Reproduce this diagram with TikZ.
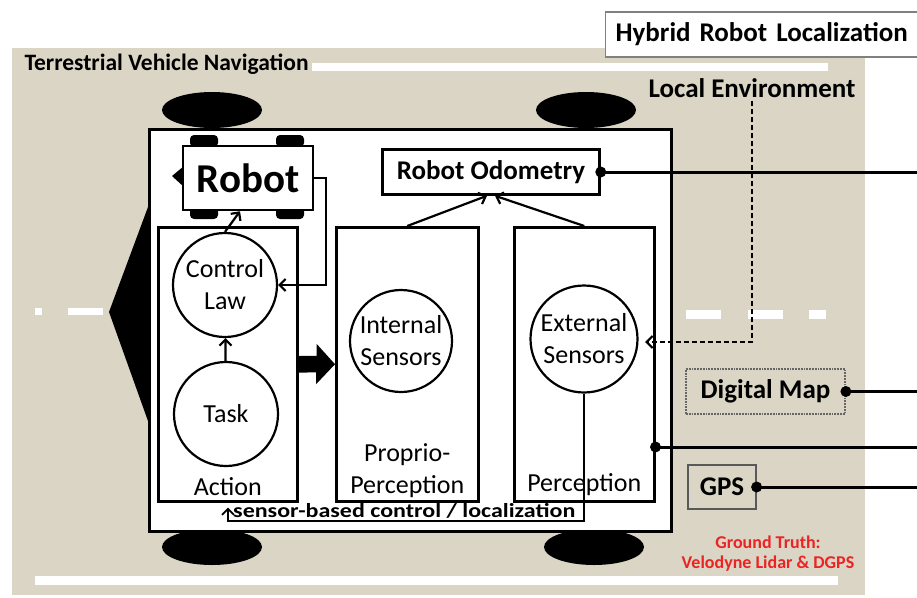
\documentclass[tikz,border=0pt]{standalone}
\usepackage{fontspec}
\setmainfont{Carlito}
\usetikzlibrary{arrows.meta,positioning,calc}
\definecolor{sand}{RGB}{218,213,196}
\definecolor{truthred}{RGB}{235,35,35}

\begin{document}
\begin{tikzpicture}[x=1pt, y=-1pt, font=\fontsize{26}{32}\selectfont,
  panel/.style={draw, line width=2.5pt, fill=white, inner sep=0pt},
  sensor/.style={draw, circle, line width=2.2pt, fill=white, inner sep=0pt, minimum size=104pt, align=center},
  conn/.style={line width=2.2pt, -{Straight Barb[length=6pt,width=12pt]}},
  link/.style={line width=3pt},
  bigbold/.style={font=\fontsize{27}{30}\selectfont\bfseries},
  wheel/.style={fill=black},
  roadmark/.style={fill=white}]
\useasboundingbox (0,0) rectangle (917,597);
% ground and road
\fill[sand] (12,48) rectangle (865,595);
\fill[roadmark] (312,63) rectangle (828,71);
\fill[roadmark] (35,576) rectangle (838,585);
\foreach \xa/\xb in {35/42, 68/103} \fill[roadmark] (\xa,308) rectangle (\xb,315);
\foreach \xa/\xb in {686/721, 748/783, 809/826} \fill[roadmark] (\xa,310) rectangle (\xb,319);
\node[anchor=west, font=\fontsize{23.5}{28}\selectfont\bfseries] (terr) at (21,64) {Terrestrial Vehicle Navigation};
\node[draw=gray, line width=1.2pt, fill=white, anchor=west, inner xsep=10pt, minimum height=45pt,
  text width=300pt, font=\fontsize{27}{30}\selectfont\bfseries] (hybrid) at (605,34.5) {Hybrid Robot Localization};

% vehicle
\foreach \cx/\cy in {212/110, 586/110, 212/547, 594/547}
  \fill[wheel] (\cx,\cy) ellipse [x radius=50, y radius=18];
\fill (148,207) -- (109,312) -- (148,421) -- cycle;
\node[panel, line width=3pt, minimum width=522pt, minimum height=402pt, anchor=north west] (body) at (148,128) {};

% robot
\foreach \cx/\cy in {204/141, 290/141, 204/213, 290/213}
  \fill[wheel, rounded corners=4pt] (\cx-14,\cy-6) rectangle (\cx+14,\cy+6);
\fill (184,166) -- (172,176) -- (184,187) -- cycle;
\node[panel, minimum width=130pt, minimum height=64pt, font=\fontsize{41}{44}\selectfont\bfseries] (robot) at (248,178) {Robot};
\node[panel, minimum width=217pt, minimum height=45pt, font=\fontsize{27}{30}\selectfont\bfseries] (odo) at (491,172) {Robot Odometry};

% blocks
\node[panel, minimum width=139pt, minimum height=274pt, anchor=north west] (action) at (157,226) {};
\node[panel, minimum width=142pt, minimum height=274pt, anchor=north west] (proprio) at (335,226) {};
\node[panel, minimum width=140pt, minimum height=274pt, anchor=north west] (percep) at (513,226) {};
\node[anchor=south] (actlbl) at ([yshift=3pt]action.south) {Action};
\node[anchor=south, align=center, inner sep=2pt] (prolbl) at ([yshift=3pt]proprio.south) {Proprio-\\Perception};
\node[anchor=south] (perlbl) at ([yshift=3pt]percep.south) {Perception};

\node[sensor] (ctrl) at (225,285) {Control\\Law};
\node[sensor] (task) at (226,414) {Task};
\node[sensor, minimum size=102pt] (intern) at (401,341) {Internal\\Sensors};
\node[sensor, minimum size=107pt] (extern) at (584,339) {External\\Sensors};

\draw[conn] (task) -- (ctrl);
\draw[conn] (ctrl.north) -- ([xshift=-8pt]robot.south);
\draw[conn] (robot.east) -- ++(12,0) |- (ctrl.east);
\draw[conn] (proprio.north) -- ([xshift=-4pt]odo.south);
\draw[conn] (percep.north) -- ([xshift=4pt]odo.south);
\fill ([yshift=8.5pt]action.east) -- ++(18pt,0) -- ++(0,12pt) -- (proprio.west) -- ++(-19pt,-20pt)
  -- ++(0,12pt) -- ([yshift=-8.5pt]action.east) -- cycle;

% sensor loop
\coordinate (loopL) at (228,521);
\draw[conn, line width=1.8pt, shorten >=5pt] (extern.south) |- (loopL) -- (loopL |- action.south);
\node[anchor=base west, font=\fontsize{20}{24}\selectfont\bfseries, inner sep=0pt] (loopLbl) at (233,517)
  {\scalebox{1.2}[1]{sensor-based control / localization}};

% local environment
\node[bigbold] (locenv) at (752,88) {Local Environment};
\coordinate (envIn) at (645,342);
\draw[conn, dash pattern=on 5pt off 3pt] (locenv.south) |- (envIn);

% sources on the right
\node[draw=gray!80!black, densely dotted, line width=1.8pt, minimum width=159pt, minimum height=45pt, bigbold] (dmap) at (765.5,391.5) {Digital Map};
\node[draw=gray!70!black, line width=1.2pt, minimum width=68pt, minimum height=44pt, bigbold] (gps) at (722,487) {GPS};
\node[text=truthred, font=\fontsize{18}{20}\selectfont\bfseries, align=center] (truth) at (768,554) {Ground Truth:\\Velodyne Lidar \& DGPS};

\coordinate (pIn) at (percep.east |- 0,447);
\coordinate (rOdo) at (917,172);
\coordinate (rMap) at (917,391.5);
\coordinate (rPer) at (917,447);
\coordinate (rGps) at (917,487);
\foreach \src/\dst in {odo.east/rOdo, dmap.east/rMap, pIn/rPer, gps.east/rGps} {
  \fill (\src) circle (5.5pt);
  \draw[link] (\src) -- (\dst);
}
\end{tikzpicture}
\end{document}
